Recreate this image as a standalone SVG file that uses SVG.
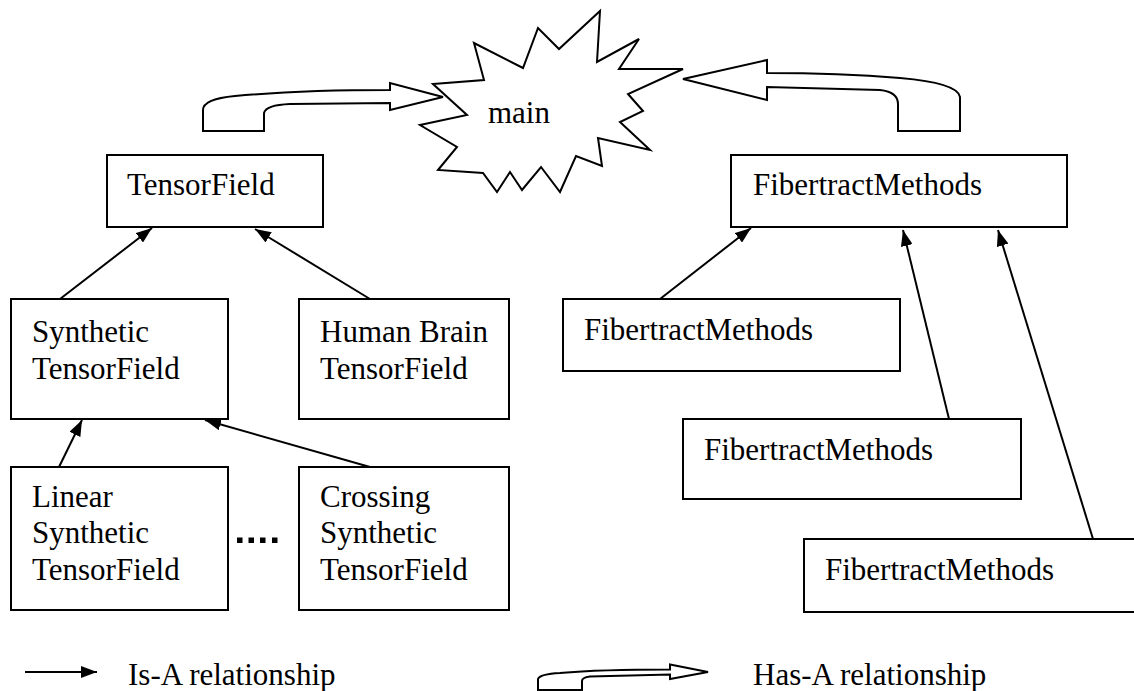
<svg xmlns="http://www.w3.org/2000/svg" width="1134" height="691" viewBox="0 0 1134 691">
<style>
.box{fill:#fff;stroke:#000;stroke-width:2}
.t{font-family:"Liberation Serif","Times New Roman",serif;font-size:31px;fill:#000}
.isa{stroke:#000;stroke-width:2;fill:none;marker-end:url(#ah)}
.hasa{fill:#fff;stroke:#000;stroke-width:2;stroke-linejoin:miter}
</style>
<defs>
<marker id="ah" viewBox="0 0 16 12" refX="16" refY="6" markerWidth="16" markerHeight="12" markerUnits="userSpaceOnUse" orient="auto">
<path d="M0,0 L16,6 L0,12 Z" fill="#000"/>
</marker>
</defs>
<rect width="1134" height="691" fill="#fff"/>

<g id="connectors">
<path class="isa" d="M60,299 L152,228"/>
<path class="isa" d="M370,299 L255,229"/>
<path class="isa" d="M59,467 L82,420"/>
<path class="isa" d="M370,467 L205,420"/>
<path class="isa" d="M660,299 L751,228"/>
<path class="isa" d="M949,419 L903,230"/>
<path class="isa" d="M1093,539 L998,230"/>
<path class="hasa" d="M203,131 L203,110 Q203,99 235,96 Q300,90 390,90 L390,83 L443,97 L390,110 L390,103 L290,104 Q266,105 264,113 L264,131 Z"/>
<path class="hasa" d="M960,131 L960,97 Q958,83 900,78 Q840,73 767,73 L767,60 L683,79 L767,100 L767,87 L880,90 Q898,92 898,104 L898,131 Z"/>
</g>

<g id="main">
<polygon class="box" points="433,84 484,80 474,43 523,68 538,28 559,49 600,11 597,62 639,39 619,69 683,69 628,94 643,111 620,122 650,150 598,138 602,166 576,156 560,192 541,167 522,190 510,172 497,192 483,173 438,170 457,147 420,125 467,115"/>
<text class="t" x="488" y="123">main</text>
</g>

<g id="tensorfield">
<rect class="box" x="107" y="155" width="216" height="72"/>
<text class="t" x="127" y="195">TensorField</text>
</g>

<g id="synthetic">
<rect class="box" x="11" y="299" width="217" height="120"/>
<text class="t" x="32" y="342">Synthetic</text>
<text class="t" x="32" y="379">TensorField</text>
</g>

<g id="humanbrain">
<rect class="box" x="299" y="299" width="210" height="120"/>
<text class="t" x="320" y="342">Human Brain</text>
<text class="t" x="320" y="379">TensorField</text>
</g>

<g id="linear">
<rect class="box" x="11" y="467" width="217" height="143"/>
<text class="t" x="32" y="507">Linear</text>
<text class="t" x="32" y="543">Synthetic</text>
<text class="t" x="32" y="580">TensorField</text>
</g>

<g id="dots">
<rect x="237" y="537.5" width="5.5" height="5.5" fill="#000"/>
<rect x="248.5" y="537.5" width="5.5" height="5.5" fill="#000"/>
<rect x="260" y="537.5" width="5.5" height="5.5" fill="#000"/>
<rect x="272" y="537.5" width="5.5" height="5.5" fill="#000"/>
</g>

<g id="crossing">
<rect class="box" x="299" y="467" width="210" height="143"/>
<text class="t" x="320" y="507">Crossing</text>
<text class="t" x="320" y="543">Synthetic</text>
<text class="t" x="320" y="580">TensorField</text>
</g>

<g id="fm-top">
<rect class="box" x="731" y="155" width="336" height="72"/>
<text class="t" x="753" y="195">FibertractMethods</text>
</g>

<g id="fm-1">
<rect class="box" x="563" y="299" width="337" height="72"/>
<text class="t" x="584" y="340">FibertractMethods</text>
</g>

<g id="fm-2">
<rect class="box" x="683" y="419" width="338" height="80"/>
<text class="t" x="704" y="460">FibertractMethods</text>
</g>

<g id="fm-3">
<rect class="box" x="804" y="539" width="337" height="73"/>
<text class="t" x="825" y="580">FibertractMethods</text>
</g>

<g id="legend">
<path class="isa" d="M25,672 L97,672"/>
<text class="t" x="128" y="685">Is-A relationship</text>
<path class="hasa" d="M538,690 L538,679 Q540,674 560,673 Q600,669.5 670,669.5 L670,664.5 L708,672 L670,679 L670,674.5 L590,676.5 Q582,677.5 582,681 L582,690 Z"/>
<text class="t" x="753" y="685">Has-A relationship</text>
</g>
</svg>
